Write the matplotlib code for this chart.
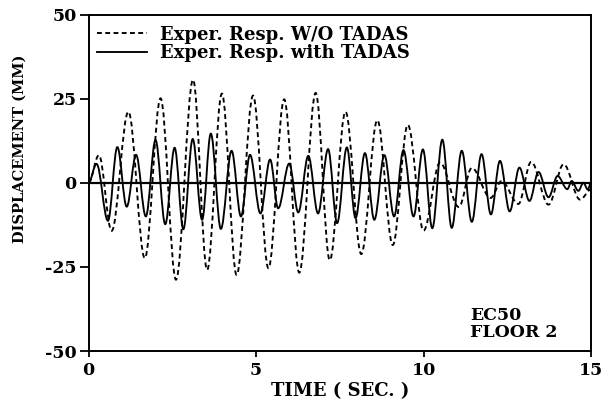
import matplotlib
matplotlib.use("Agg")
import matplotlib.pyplot as plt
from matplotlib.path import Path
from matplotlib.patches import PathPatch
from matplotlib.lines import Line2D

# Turning points of the floor-2 displacement records (time in s, displacement in mm)
t_without = [0.0, 0.31, 0.69, 1.19, 1.68, 2.15, 2.61, 3.12, 3.54, 3.98, 4.42,
             4.91, 5.37, 5.84, 6.29, 6.78, 7.20, 7.67, 8.14, 8.62, 9.08, 9.53,
             10.0, 10.49, 11.05, 11.44, 12.0, 12.33, 12.83, 13.21, 13.73,
             14.18, 14.67, 15.0]
d_without = [0.0, 8.2, -14.3, 21.1, -22.4, 25.1, -28.8, 30.6, -25.9, 26.5,
             -27.4, 25.9, -25.4, 24.8, -26.7, 26.7, -23.0, 21.1, -21.2, 18.6,
             -18.5, 17.2, -14.2, 6.0, -7.2, 4.4, -4.5, 0.5, -6.3, 6.2, -6.5,
             5.5, -5.0, -2.0]

t_with = [0.0, 0.24, 0.58, 0.86, 1.14, 1.42, 1.71, 2.0, 2.29, 2.57, 2.83,
          3.11, 3.39, 3.65, 3.95, 4.27, 4.55, 4.82, 5.13, 5.42, 5.66, 5.99,
          6.26, 6.56, 6.85, 7.15, 7.42, 7.71, 7.97, 8.25, 8.53, 8.83, 9.12,
          9.40, 9.70, 9.98, 10.26, 10.56, 10.84, 11.14, 11.44, 11.73, 12.01,
          12.28, 12.57, 12.86, 13.16, 13.43, 13.73, 14.0, 14.29, 14.42,
          14.62, 14.77, 14.9, 15.0]
d_with = [0.0, 5.6, -11.3, 10.6, -7.1, 8.3, -10.0, 12.7, -12.3, 10.4, -13.8,
          13.0, -11.0, 14.6, -13.7, 9.5, -10.0, 8.3, -9.1, 6.9, -7.6, 5.7,
          -8.8, 8.0, -9.1, 10.0, -12.0, 10.5, -10.5, 8.8, -11.0, 8.2, -10.0,
          9.7, -10.0, 9.9, -13.5, 12.8, -13.4, 9.5, -11.6, 8.5, -9.4, 6.5,
          -8.5, 4.5, -5.4, 3.2, -4.3, 2.0, -1.9, 0.5, -2.4, 0.0, -2.0, 0.0]

labels = ["Exper. Resp. W/O TADAS", "Exper. Resp. with TADAS"]
x_ticks = [0, 5, 10, 15]
y_ticks = [-50, -25, 0, 25, 50]
note = "EC50\nFLOOR 2"

FONT = {"family": "DejaVu Serif", "weight": "bold"}


def response_path(t, d, k=0.36):
    """Smooth path through successive turning points (horizontal tangents)."""
    verts = [(t[0], d[0])]
    codes = [Path.MOVETO]
    for i in range(len(t) - 1):
        dt = t[i + 1] - t[i]
        verts += [(t[i] + k * dt, d[i]), (t[i + 1] - k * dt, d[i + 1]),
                  (t[i + 1], d[i + 1])]
        codes += [Path.CURVE4] * 3
    return Path(verts, codes)


fig = plt.figure(figsize=(6.08, 4.09), dpi=100)
ax = fig.add_axes([0.1456, 0.1418, 0.8266, 0.8227])

dash_style = (0, (2.6, 1.8))
lw = 1.35

ax.add_patch(PathPatch(response_path(t_without, d_without), fill=False,
                       edgecolor="black", lw=lw, linestyle=dash_style,
                       capstyle="butt"))
ax.add_patch(PathPatch(response_path(t_with, d_with), fill=False,
                       edgecolor="black", lw=lw, linestyle="-"))
ax.axhline(0, color="black", lw=1.6)

ax.set_xlim(0, 15)
ax.set_ylim(-50, 50)
ax.set_xticks(x_ticks)
ax.set_yticks(y_ticks)
ax.set_xticklabels([str(v) for v in x_ticks], fontdict=FONT, fontsize=12.5)
ax.set_yticklabels([str(v) for v in y_ticks], fontdict=FONT, fontsize=12.5)
ax.tick_params(axis="y", direction="out", length=6.5, width=1.3, pad=2)
ax.tick_params(axis="x", direction="out", length=4, width=1.3, pad=4)
for s in ax.spines.values():
    s.set_linewidth(1.4)

ax.set_xlabel("TIME ( SEC. )", fontdict=FONT, fontsize=13, labelpad=2)
ax.set_ylabel("DISPLACEMENT (MM)", fontdict=FONT, fontsize=10.5)
ax.yaxis.set_label_coords(-0.124, 0.6)

handles = [Line2D([], [], color="black", lw=lw, linestyle=dash_style),
           Line2D([], [], color="black", lw=lw, linestyle="-")]
leg = ax.legend(handles, labels, loc="upper left", bbox_to_anchor=(0.009, 0.978),
                borderaxespad=0, borderpad=0.2, frameon=False, handlelength=2.8,
                handletextpad=0.7, labelspacing=0.05,
                prop={"family": "DejaVu Serif", "weight": "bold", "size": 13})

ax.text(11.39, -42.0, note, fontdict=FONT, fontsize=12.5, va="center",
        ha="left", linespacing=1.05)

fig.savefig("out.png", dpi=100)
